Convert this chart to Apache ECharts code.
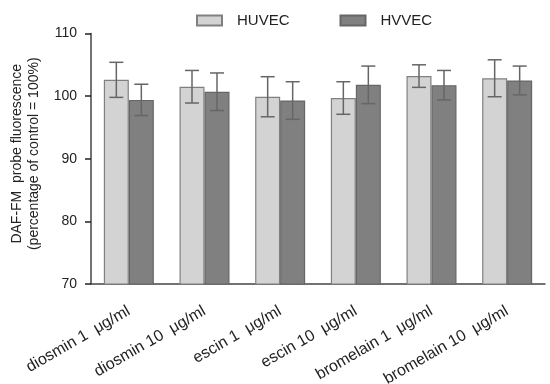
<!DOCTYPE html>
<html>
<head>
<meta charset="utf-8">
<script src="https://cdn.jsdelivr.net/npm/echarts@6/dist/echarts.min.js"></script>
<style>html,body{margin:0;padding:0;background:#fff}#c{width:550px;height:384px}</style>
</head>
<body>
<div id="c"></div>
<script>
const categories = ['diosmin 1  μg/ml', 'diosmin 10  μg/ml', 'escin 1  μg/ml', 'escin 10  μg/ml', 'bromelain 1  μg/ml', 'bromelain 10  μg/ml'];
const seriesNames = ['HUVEC', 'HVVEC'];
const huvecMean = [102.6, 101.5, 99.9, 99.7, 103.2, 102.85];
const huvecSD = [2.8, 2.6, 3.2, 2.6, 1.8, 2.95];
const hvvecMean = [99.4, 100.7, 99.3, 101.8, 101.75, 102.5];
const hvvecSD = [2.5, 3.0, 3.0, 3.0, 2.35, 2.3];
const yTicks = { min: 70, max: 110, interval: 10 };

const BAR_W = 25;
const FONT = 'Liberation Sans, Arial, sans-serif';

function errData(mean, sd) {
  return mean.map((m, i) => [i, m - sd[i], m + sd[i]]);
}
function errSeries(name, data, offset) {
  return {
    type: 'custom',
    name: name,
    z: 5,
    silent: true,
    renderItem: function (params, api) {
      const x = api.value(0);
      const lo = api.coord([x, api.value(1)]);
      const hi = api.coord([x, api.value(2)]);
      const cx = lo[0] + offset;
      const cap = 7;
      const st = { stroke: '#666', lineWidth: 1.5 };
      return {
        type: 'group',
        children: [
          { type: 'line', shape: { x1: cx, y1: lo[1], x2: cx, y2: hi[1] }, style: st },
          { type: 'line', shape: { x1: cx - cap, y1: hi[1], x2: cx + cap, y2: hi[1] }, style: st },
          { type: 'line', shape: { x1: cx - cap, y1: lo[1], x2: cx + cap, y2: lo[1] }, style: st }
        ]
      };
    },
    encode: { x: 0, y: [1, 2] },
    data: data
  };
}

const chart = echarts.init(document.getElementById('c'), null, { renderer: 'canvas' });
chart.setOption({
  animation: false,
  textStyle: { fontFamily: FONT },
  legend: {
    data: seriesNames.map(n => ({ name: n, icon: 'rect' })),
    top: 8,
    left: 191,
    itemWidth: 25,
    itemHeight: 10,
    itemGap: 50,
    textStyle: { fontSize: 15, color: '#222', fontFamily: FONT, padding: [0, 0, 0, 10] }
  },
  grid: { left: 91, right: 5, top: 33.5, bottom: 100, containLabel: false, outerBoundsMode: 'none' },
  xAxis: {
    type: 'category',
    data: categories,
    boundaryGap: true,
    axisLine: { lineStyle: { color: '#444', width: 1.5 } },
    axisTick: { alignWithLabel: true, length: 6, lineStyle: { color: '#222', width: 1.5 } },
    axisLabel: { rotate: 30, fontSize: 16, color: '#222', margin: 26, fontFamily: FONT, interval: 0 }
  },
  yAxis: {
    type: 'value',
    min: yTicks.min, max: yTicks.max, interval: yTicks.interval,
    name: 'DAF-FM  probe fluorescence\n(percentage of control = 100%)',
    nameLocation: 'middle',
    nameRotate: 90,
    nameGap: 48,
    nameMoveOverlap: false,
    nameTextStyle: { fontSize: 14, color: '#222', lineHeight: 17, fontFamily: FONT, padding: [0, 0, 0, 10] },
    axisLine: { show: true, lineStyle: { color: '#444', width: 1.5 } },
    axisTick: { show: true, length: 6, lineStyle: { color: '#222', width: 1.5 } },
    axisLabel: { fontSize: 14, color: '#222', margin: 14, fontFamily: FONT },
    splitLine: { show: false }
  },
  series: [
    {
      name: 'HUVEC', type: 'bar', data: huvecMean, barWidth: BAR_W, barGap: '0%',
      itemStyle: { color: '#d3d3d3', borderColor: '#808080', borderWidth: 1.2 }
    },
    {
      name: 'HVVEC', type: 'bar', data: hvvecMean, barWidth: BAR_W, barGap: '0%',
      itemStyle: { color: '#808080', borderColor: '#666', borderWidth: 1.2 }
    },
    errSeries('HUVEC err', errData(huvecMean, huvecSD), -BAR_W / 2),
    errSeries('HVVEC err', errData(hvvecMean, hvvecSD), BAR_W / 2)
  ]
});
</script>
</body>
</html>
